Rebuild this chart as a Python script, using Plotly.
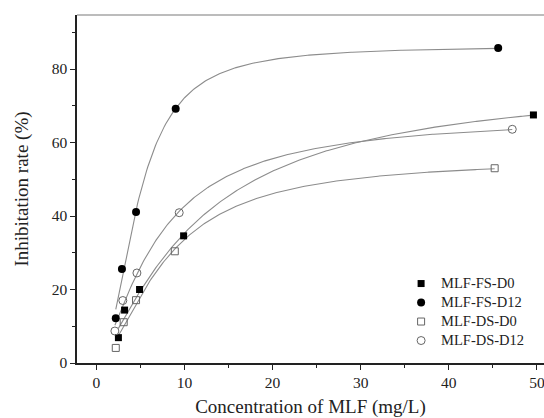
import numpy as np
import plotly.graph_objects as go

# Measured inhibition rates (%) against MLF concentration (mg/L)
fs_d0_x = [2.5, 3.2, 4.9, 9.9, 49.6]
fs_d0_y = [6.9, 14.4, 20.0, 34.6, 67.5]

fs_d12_x = [2.2, 2.9, 4.5, 9.0, 45.6]
fs_d12_y = [12.2, 25.6, 41.1, 69.2, 85.7]

ds_d0_x = [2.2, 3.1, 4.5, 8.9, 45.2]
ds_d0_y = [4.1, 11.1, 17.1, 30.4, 53.0]

ds_d12_x = [2.1, 3.0, 4.6, 9.4, 47.2]
ds_d12_y = [8.7, 17.0, 24.5, 40.9, 63.6]

series_names = ["MLF-FS-D0", "MLF-FS-D12", "MLF-DS-D0", "MLF-DS-D12"]


def hill_fit(x, y):
    """Least-squares fit of y = a * x^n / (k^n + x^n) (grid over n, k; a solved linearly)."""
    x = np.asarray(x, float)
    y = np.asarray(y, float)
    ns = np.arange(0.5, 4.01, 0.01)
    ks = np.arange(1.0, 60.0, 0.05)
    N, K = np.meshgrid(ns, ks, indexing="ij")
    xn = x[None, None, :] ** N[..., None]
    f = xn / (K[..., None] ** N[..., None] + xn)
    a = (f * y).sum(-1) / (f * f).sum(-1)
    sse = ((a[..., None] * f - y) ** 2).sum(-1)
    i, j = np.unravel_index(np.argmin(sse), sse.shape)
    return a[i, j], N[i, j], K[i, j]


def hill_curve(x, y, num=300):
    a, n, k = hill_fit(x, y)
    xs = np.linspace(min(x), max(x), num)
    return xs, a * xs ** n / (k ** n + xs ** n)


serif = "Liberation Serif, Times New Roman, serif"
fig = go.Figure()

datasets = [
    (fs_d0_x, fs_d0_y, dict(symbol="square", size=7, color="black", line=dict(width=0))),
    (fs_d12_x, fs_d12_y, dict(symbol="circle", size=8, color="black", line=dict(width=0))),
    (ds_d0_x, ds_d0_y, dict(symbol="square-open", size=7, color="#666666", line=dict(width=1))),
    (ds_d12_x, ds_d12_y, dict(symbol="circle-open", size=8, color="#666666", line=dict(width=1))),
]

# fitted curves
for x, y, _ in datasets:
    cx, cy = hill_curve(x, y)
    fig.add_trace(go.Scatter(x=cx, y=cy, mode="lines", showlegend=False,
                             line=dict(color="#8c8c8c", width=1.1), hoverinfo="skip"))

# measured points (legend text sized inline so the rows stay compact)
for name, (x, y, marker) in zip(series_names, datasets):
    fig.add_trace(go.Scatter(x=x, y=y, mode="markers", marker=marker,
                             name=f"<span style='font-size:14.5px'>{name}</span>"))

axis_common = dict(
    showgrid=False, zeroline=False, showline=True, linecolor="#222222", linewidth=1.5,
    ticks="outside", ticklen=5, tickwidth=1.2, tickcolor="#222222",
    tickfont=dict(family=serif, size=15.5, color="#222222"),
    title_font=dict(family=serif, size=19, color="#222222"),
    ticklabeloverflow="allow", automargin=False,
)

fig.update_xaxes(
    range=[-2.2, 50.8], tick0=0, dtick=10,
    minor=dict(ticks="outside", ticklen=3, tick0=5, dtick=10, tickcolor="#222222", tickwidth=1.2),
    title_text="Concentration of MLF (mg/L)", title_standoff=10,
    **axis_common,
)
fig.update_yaxes(
    range=[0, 94.7], tick0=0, dtick=20,
    minor=dict(ticks="outside", ticklen=3, tick0=10, dtick=20, tickcolor="#222222", tickwidth=1.2),
    title_text="Inhibitation rate (%)", title_standoff=18,
    **axis_common,
)

# top frame line
fig.add_shape(type="line", xref="paper", yref="paper", x0=0, x1=1, y0=1, y1=1,
              line=dict(color="#a6a6a6", width=1.5))

fig.update_layout(
    width=544, height=418,
    margin=dict(l=77, r=0, t=15, b=55),
    plot_bgcolor="white", paper_bgcolor="white",
    legend=dict(x=0.694, y=0.27, xanchor="left", yanchor="top",
                bgcolor="rgba(0,0,0,0)", tracegroupgap=0,
                font=dict(family=serif, size=12, color="#222222")),
)

fig.write_html("out.html")
